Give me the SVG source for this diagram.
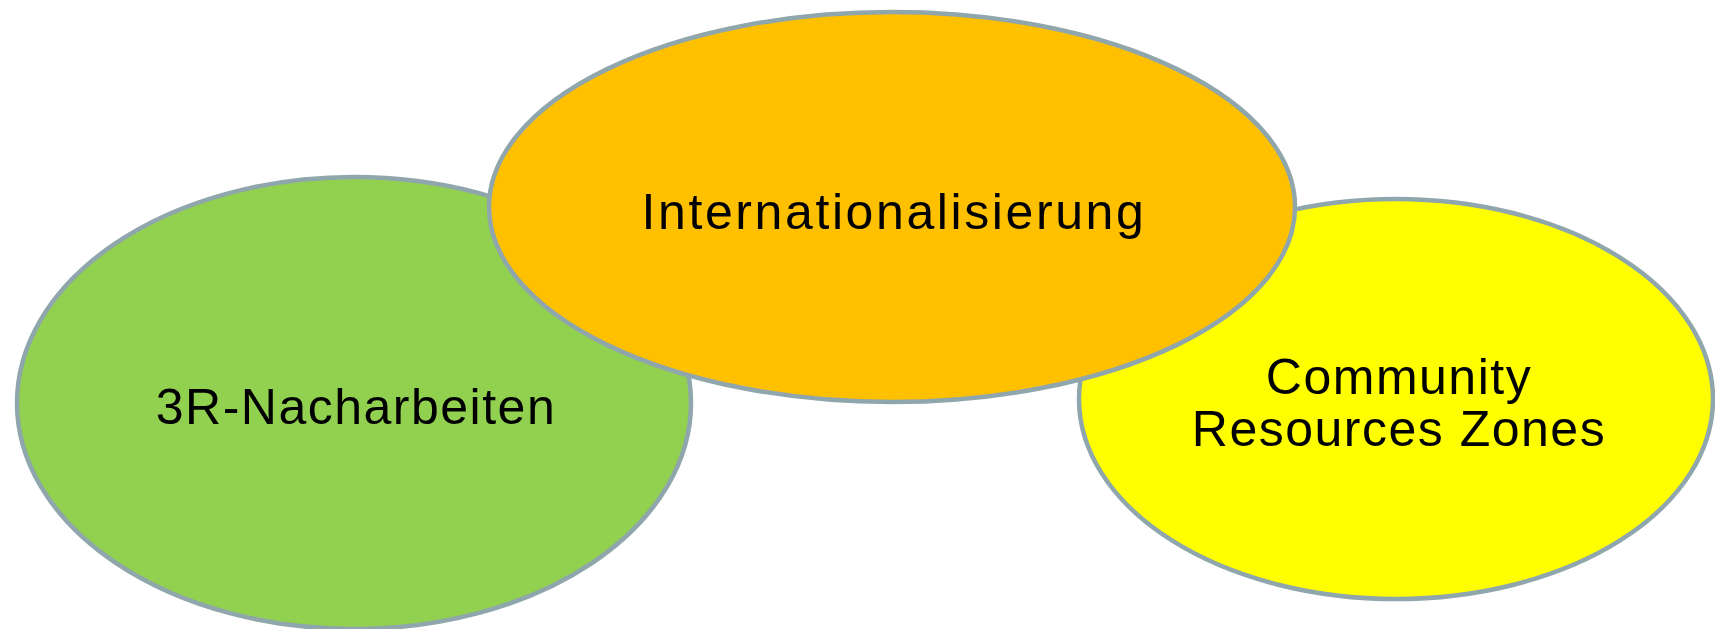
<svg xmlns="http://www.w3.org/2000/svg" width="1715" height="629" viewBox="0 0 1715 629">
<style>
.node{stroke:#8fa6ac;stroke-width:4.5}
.lbl{font-family:"Liberation Sans",Arial,sans-serif;font-size:50px;fill:#000;text-anchor:middle;letter-spacing:1.5px}
.wide{letter-spacing:2.6px}
</style>
<rect width="1715" height="629" fill="#ffffff"/>
<g id="node-3r">
<ellipse class="node" cx="354" cy="403" rx="337" ry="226" fill="#92d050"/>
<text class="lbl" x="356" y="424">3R-Nacharbeiten</text>
</g>
<g id="node-community">
<ellipse class="node" cx="1396" cy="399" rx="317" ry="200" fill="#ffff00"/>
<text class="lbl" x="1399" y="394">Community</text>
<text class="lbl" x="1399" y="446">Resources Zones</text>
</g>
<g id="node-international">
<ellipse class="node" cx="892" cy="207" rx="403" ry="195" fill="#ffc000"/>
<text class="lbl wide" x="894" y="229">Internationalisierung</text>
</g>
<g id="connectors"></g>
</svg>
